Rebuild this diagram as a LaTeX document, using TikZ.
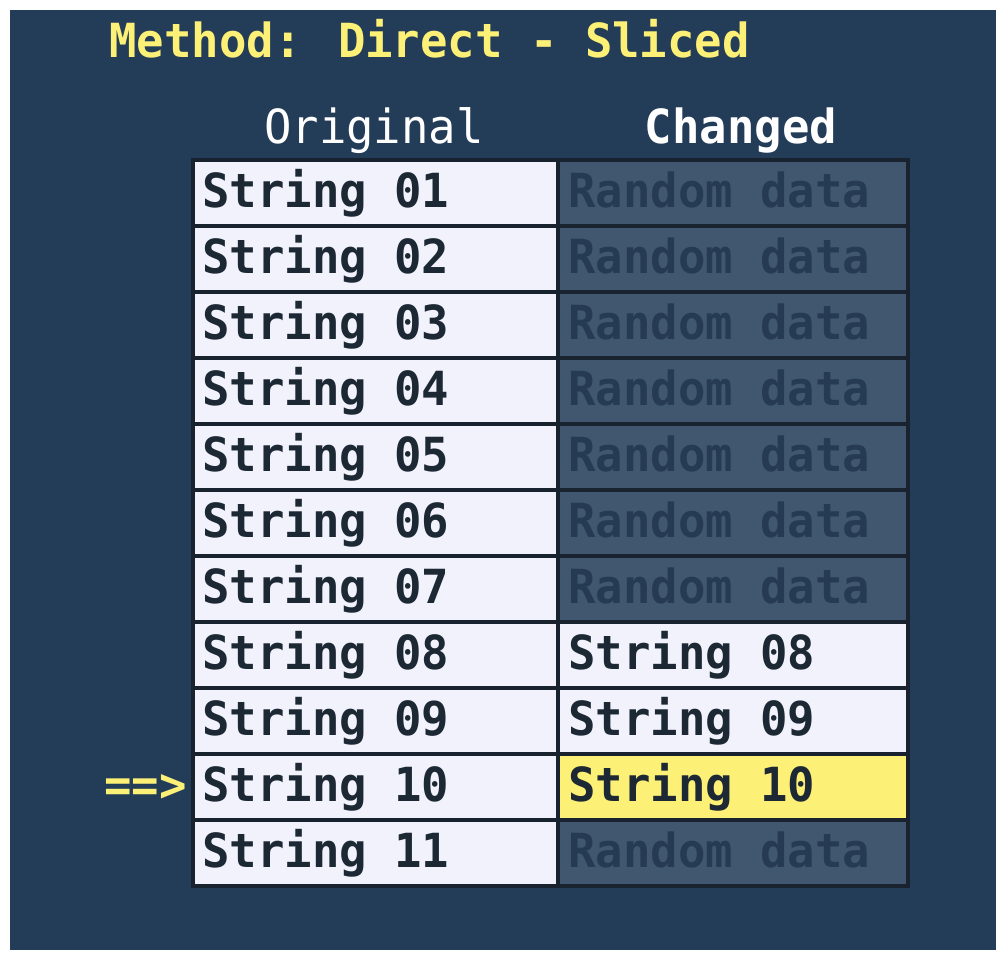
\documentclass[tikz,border=0pt]{standalone}
\usepackage{fontspec}
\setmainfont[FakeStretch=0.97]{DejaVu Sans Mono}
\usepackage{tikz}
\usetikzlibrary{positioning}
\definecolor{bgblue}{HTML}{233D59}
\definecolor{cellline}{HTML}{18232F}
\definecolor{lightcell}{HTML}{F1F2FC}
\definecolor{randcell}{HTML}{415770}
\definecolor{randtext}{HTML}{263A53}
\definecolor{darktext}{HTML}{1C2833}
\definecolor{hiyellow}{HTML}{FDF076}
\tikzstyle{cell} = [draw=cellline, line width=2pt]
\tikzstyle{txt} = [anchor=base west, inner sep=0pt, font=\fontsize{23.5}{24}\selectfont\bfseries]
\tikzstyle{head} = [anchor=base, inner sep=0pt, text=white, font=\fontsize{23.5}{24}\selectfont]

\begin{document}
\begin{tikzpicture}[x=0.5pt,y=-0.5pt]
                \useasboundingbox (0,0) rectangle (1006,960);
                \fill[bgblue] (10,10) rectangle (996,950);
                \node[txt, text=hiyellow] (title) at (109,57) {Method: Direct - Sliced};
                \node[head] (orig) at (374,143) {Original};
                \node[head, font=\fontsize{23.5}{24}\selectfont\bfseries] (chg) at (741,143) {Changed};
                % left column
                \foreach \j in {1,...,11}{
                    \pgfmathsetmacro{\rowtop}{160+66*(\j-1)}
                    \draw[cell, fill=lightcell] (193,\rowtop) rectangle (558,\rowtop+66);
                    \node[txt, text=darktext] (orig\j) at (202,\rowtop+47) {String \ifnum\j<10 0\fi\j};
                }
                % right column
                \foreach \j in {1,2,3,4,5,6,7,11}{
                    \pgfmathsetmacro{\rowtop}{160+66*(\j-1)}
                    \draw[cell, fill=randcell] (558,\rowtop) rectangle (908,\rowtop+66);
                    \node[txt, text=randtext] (chg\j) at (568,\rowtop+47) {Random data};
                }
                \foreach \j/\c in {8/lightcell,9/lightcell,10/hiyellow}{
                    \pgfmathsetmacro{\rowtop}{160+66*(\j-1)}
                    \draw[cell, fill=\c] (558,\rowtop) rectangle (908,\rowtop+66);
                    \node[txt, text=darktext] (chg\j) at (568,\rowtop+47) {String \ifnum\j<10 0\fi\j};
                }
                \node[txt, text=hiyellow, anchor=base east] (ptr) at (187,801) {==>};
\end{tikzpicture}
\end{document}
